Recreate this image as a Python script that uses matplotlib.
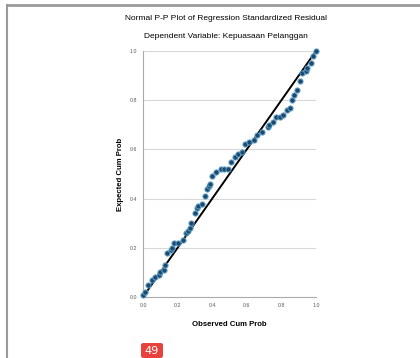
import matplotlib.pyplot as plt
from matplotlib.patches import FancyBboxPatch

# observed vs expected cumulative probability
observed = [0.00, 0.01, 0.03, 0.05, 0.07, 0.09, 0.10, 0.12, 0.13, 0.14,
            0.16, 0.17, 0.18, 0.20, 0.23, 0.25, 0.26, 0.27, 0.28, 0.30,
            0.31, 0.32, 0.34, 0.36, 0.37, 0.38, 0.39, 0.40, 0.42, 0.45,
            0.47, 0.49, 0.51, 0.53, 0.55, 0.57, 0.59, 0.61, 0.64, 0.66,
            0.69, 0.72, 0.73, 0.75, 0.77, 0.79, 0.81, 0.83, 0.85, 0.86,
            0.87, 0.89, 0.91, 0.92, 0.94, 0.95, 0.97, 0.98, 1.00]
expected = [0.01, 0.02, 0.05, 0.07, 0.08, 0.09, 0.10, 0.11, 0.13, 0.18,
            0.19, 0.20, 0.22, 0.22, 0.23, 0.26, 0.27, 0.28, 0.30, 0.34,
            0.36, 0.37, 0.38, 0.41, 0.44, 0.45, 0.46, 0.49, 0.51, 0.52,
            0.52, 0.52, 0.55, 0.57, 0.58, 0.59, 0.62, 0.63, 0.64, 0.66,
            0.67, 0.69, 0.70, 0.71, 0.73, 0.73, 0.74, 0.76, 0.77, 0.80,
            0.82, 0.84, 0.88, 0.91, 0.92, 0.93, 0.95, 0.98, 1.00]
ticks = [0.0, 0.2, 0.4, 0.6, 0.8, 1.0]
tick_labels = ["0.0", "0.2", "0.4", "0.6", "0.8", "1.0"]

plt.rcParams['font.family'] = ['Liberation Sans', 'DejaVu Sans']

fig = plt.figure(figsize=(4.2, 3.58), dpi=100)
fig.patch.set_facecolor('white')

# page frame of the screenshot
fig.add_artist(plt.Line2D([7 / 420, 1.0], [1 - 5 / 358, 1 - 5 / 358],
                          color='#9a9a9a', lw=2))
fig.add_artist(plt.Line2D([7 / 420, 7 / 420], [0, 1 - 5 / 358],
                          color='#9a9a9a', lw=1.5))

ax = fig.add_axes([143 / 420, 1 - 297 / 358, 173 / 420, 246 / 358])
ax.set_xlim(0, 1)
ax.set_ylim(0, 1)

for t in ticks[1:]:
    ax.axhline(t, color='#d8d8d8', lw=0.8, zorder=0)

ax.plot([0, 1], [0, 1], color='black', lw=1.4, zorder=2)
ax.scatter(observed, expected, s=14, facecolor='#1c4a6e',
           edgecolor='#5f9fc8', linewidth=0.7, zorder=3, clip_on=False)

for side in ['top', 'right']:
    ax.spines[side].set_visible(False)
for side in ['left', 'bottom']:
    ax.spines[side].set_color('#aaaaaa')
    ax.spines[side].set_linewidth(0.8)

ax.set_xticks(ticks)
ax.set_xticklabels(tick_labels)
ax.set_yticks(ticks)
ax.set_yticklabels(tick_labels)
ax.tick_params(length=0, labelsize=3.8, labelcolor='#555555', pad=4)

ax.set_xlabel("Observed Cum Prob", fontsize=5.6, fontweight='bold', labelpad=10)
ax.set_ylabel("Expected Cum Prob", fontsize=5.6, fontweight='bold', labelpad=4)

fig.text(226 / 420, 1 - 18 / 358,
         "Normal P-P Plot of Regression Standardized Residual",
         ha='center', va='center', fontsize=6, color='black')
fig.text(226 / 420, 1 - 36 / 358,
         "Dependent Variable: Kepuasaan Pelanggan",
         ha='center', va='center', fontsize=6, color='black')

# page number badge
badge = FancyBboxPatch((141 / 420, 0.0), 22 / 420, 15 / 358,
                       boxstyle="round,pad=0,rounding_size=0.006",
                       transform=fig.transFigure, facecolor='#e8423f',
                       edgecolor='none')
fig.add_artist(badge)
fig.text(152 / 420, 7 / 358, "49", ha='center', va='center',
         fontsize=8, color='white', family='DejaVu Sans')

fig.savefig('out.png', dpi=100)
